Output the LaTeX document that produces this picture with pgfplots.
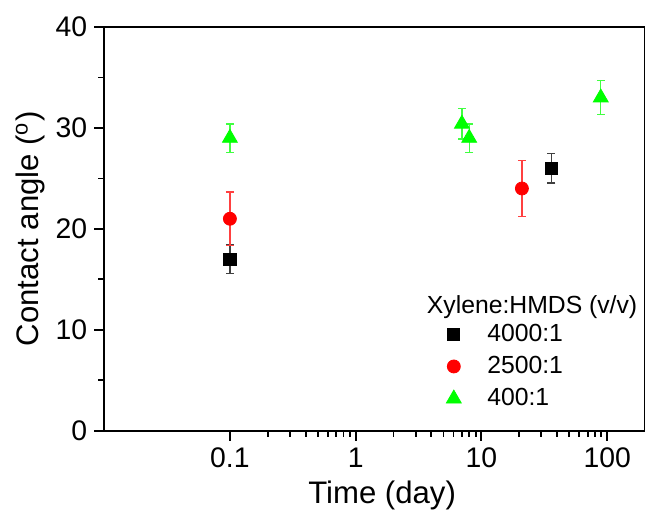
\documentclass[border=0pt]{standalone}
\usepackage{fontspec}
\setmainfont{Liberation Sans}
\usepackage{pgfplots}
\pgfplotsset{compat=1.18}
\definecolor{pred}{RGB}{255,0,0}
\definecolor{pgreen}{RGB}{0,255,0}

\begin{document}
\begin{tikzpicture}
\begin{axis}[
  scale only axis,
  width=270bp, height=201.5bp,
  xmode=log,
  xmin=0.01, xmax=200, ymin=0, ymax=40,
  xtick={0.1,1,10,100}, xticklabels={0.1,1,10,100},
  minor xtick={0.2,0.3,0.4,0.5,0.6,0.7,0.8,0.9,2,3,4,5,6,7,8,9,20,30,40,50,60,70,80,90},
  ytick={0,10,20,30,40}, yticklabels={0,10,20,30,40},
  minor ytick={5,15,25,35},
  tick pos=left, tick align=outside,
  major tick length=5bp, minor tick length=3bp,
  every tick/.style={black, line width=0.9bp},
  axis line style={line width=1bp},
  tick label style={font=\fontsize{14.2}{17}\selectfont},
  label style={font=\fontsize{15.6}{18}\selectfont},
  xlabel={Time (day)},
  ylabel={Contact angle (\textsuperscript{o})},
  x label style={at={(axis description cs:0.514,-0.161)}, anchor=center},
  y label style={at={(axis description cs:-0.137,0.5)}, anchor=center},
  legend cell align=left,
  legend style={draw=none, fill=none, at={(rel axis cs:0.632,0.275)}, anchor=north west,
    font=\fontsize{12.4}{14}\selectfont, row sep=2bp, inner sep=0pt,
    /tikz/every odd column/.append style={column sep=11bp}},
  error bars/y dir=both, error bars/y explicit,
]

% 4000:1
\addplot[only marks, mark=square*, mark size=3bp, black,
  error bars/error bar style={black!75, line width=0.6bp},
  error bars/error mark options={rotate=90, mark size=2bp, line width=0.6bp, black!75}]
  coordinates {(0.1,17.0) +- (0,1.4) (36,26.0) +- (0,1.45)};

% 2500:1
\addplot[only marks, mark=*, mark size=3.25bp, pred,
  error bars/error bar style={pred!75, line width=0.6bp},
  error bars/error mark options={rotate=90, mark size=2bp, line width=0.6bp, pred!75}]
  coordinates {(0.1,21.0) +- (0,2.65) (21,24.0) +- (0,2.8)};

% 400:1
\addplot[only marks, mark=triangle*, mark size=4.3bp, pgreen,
  error bars/error bar style={pgreen!75, line width=0.6bp},
  error bars/error mark options={rotate=90, mark size=2bp, line width=0.6bp, pgreen!75}]
  coordinates {(0.1,29.0) +- (0,1.4) (7,30.4) +- (0,1.5) (8,29.0) +- (0,1.4) (89,33.0) +- (0,1.7)};

\legend{4000:1, 2500:1, 400:1}

\node[anchor=west, inner sep=0pt, font=\fontsize{12.4}{14}\selectfont] at (rel axis cs:0.596,0.305) {Xylene:HMDS (v/v)};
\end{axis}
\pgfresetboundingbox
\path (-52bp,-42bp) rectangle (270bp,215bp);
\end{tikzpicture}
\end{document}
